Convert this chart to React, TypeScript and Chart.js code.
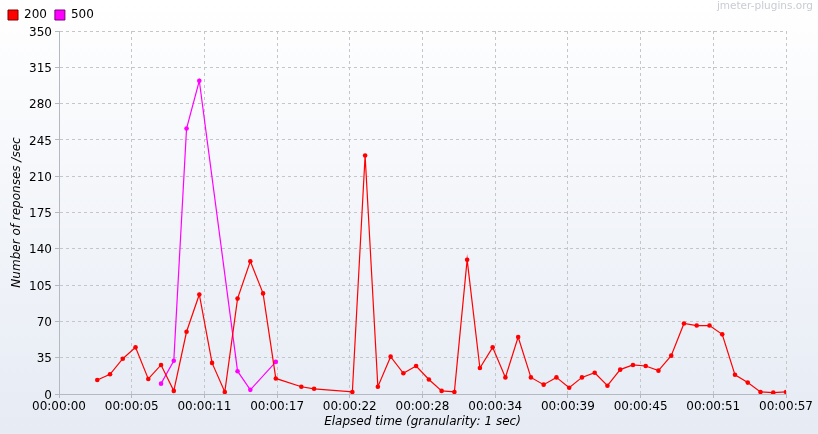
import React, { useEffect, useRef } from "react";
import { Chart, registerables } from "chart.js";

Chart.register(...registerables);

const seriesNames = ["200", "500"];
const okTimes = [3, 4, 5, 6, 7, 8, 9, 10, 11, 12, 13, 14, 15, 16, 17, 19, 20, 23, 24, 25, 26, 27, 28, 29, 30, 31, 32, 33, 34, 35, 36, 37, 38, 39, 40, 41, 42, 43, 44, 45, 46, 47, 48, 49, 50, 51, 52, 53, 54, 55, 56, 57];
const okValues = [13.5, 19, 34, 45, 14.5, 28, 3, 60, 96, 30, 2, 92, 128, 97, 15, 7, 5, 2, 230, 7, 36, 20, 27, 14, 3, 2, 129.5, 25, 45, 16, 55, 16, 9, 16, 6, 16, 20.5, 8, 23.5, 28, 27, 22.5, 37, 68, 66, 66, 57.5, 18.5, 11, 2, 1.3, 2];
const errTimes = [8, 9, 10, 11, 14, 15, 17];
const errValues = [10, 32, 256, 302, 22, 4, 31];
const xTickValues = [0, 5.7, 11.4, 17.1, 22.8, 28.5, 34.2, 39.9, 45.6, 51.3, 57];
const yMax = 350;
const yStep = 35;

const FONT = "'DejaVu Sans', sans-serif";

function fmt(v: number) {
  const s = Math.floor(v + 1e-9);
  const hh = Math.floor(s / 3600);
  const mm = Math.floor((s % 3600) / 60);
  const ss = s % 60;
  const p = (n: number) => String(n).padStart(2, "0");
  return `${p(hh)}:${p(mm)}:${p(ss)}`;
}

const bgPlugin = {
  id: "bgGradient",
  beforeDraw(chart: any) {
    const { ctx, width, height } = chart;
    const g = ctx.createLinearGradient(0, 0, 0, height);
    g.addColorStop(0, "#ffffff");
    g.addColorStop(1, "#e6ebf4");
    ctx.save();
    ctx.fillStyle = g;
    ctx.fillRect(0, 0, width, height);
    ctx.restore();
  },
  afterDraw(chart: any) {
    const { ctx, width } = chart;
    ctx.save();
    ctx.font = `10.5px ${FONT}`;
    ctx.fillStyle = "#c8ccd3";
    ctx.textAlign = "right";
    ctx.textBaseline = "middle";
    ctx.fillText("jmeter-plugins.org", width - 5, 6);
    ctx.restore();
  },
};

const legendSizePlugin = {
  id: "legendSize",
  afterInit(chart: any) {
    const lg = chart.legend;
    if (lg && !lg.__patched) {
      const orig = lg.fit.bind(lg);
      lg.fit = function () {
        orig();
        this.height = 30;
      };
      lg.__patched = true;
    }
  },
};

export default function App() {
  const ref = useRef<HTMLCanvasElement | null>(null);
  useEffect(() => {
    if (!ref.current) return;
    const chart = new Chart(ref.current, {
      type: "line",
      data: {
        datasets: [
          {
            label: seriesNames[0],
            data: okTimes.map((t, i) => ({ x: t, y: okValues[i] })),
            borderColor: "#ff0000",
            backgroundColor: "#ff0000",
            borderWidth: 1.2,
            pointRadius: 2.3,
            pointBorderWidth: 0,
            tension: 0,
          },
          {
            label: seriesNames[1],
            data: errTimes.map((t, i) => ({ x: t, y: errValues[i] })),
            borderColor: "#ff00ff",
            backgroundColor: "#ff00ff",
            borderWidth: 1.2,
            pointRadius: 2.3,
            pointBorderWidth: 0,
            tension: 0,
          },
        ],
      },
      options: {
        animation: false,
        responsive: false,
        events: [],
        layout: { padding: { left: 0, right: 32, top: 1, bottom: 0 } },
        plugins: {
          tooltip: { enabled: false },
          legend: {
            display: true,
            position: "top",
            align: "start",
            labels: {
              boxWidth: 10,
              boxHeight: 10,
              padding: 8,
              color: "#000000",
              font: { family: FONT, size: 12 },
              generateLabels: (ch: any) =>
                ch.data.datasets.map((d: any, i: number) => ({
                  text: d.label,
                  fillStyle: d.borderColor,
                  strokeStyle: i === 0 ? "#7a0000" : "#7a007a",
                  lineWidth: 1,
                  datasetIndex: i,
                  hidden: false,
                })),
            },
          },
        },
        scales: {
          x: {
            type: "linear",
            min: 0,
            max: 57,
            afterBuildTicks: (scale: any) => {
              scale.ticks = xTickValues.map((v) => ({ value: v }));
            },
            afterFit: (scale: any) => {
              scale.height = 40;
            },
            ticks: {
              autoSkip: false,
              maxRotation: 0,
              padding: 2,
              color: "#000000",
              font: { family: FONT, size: 12 },
              callback: (v: any) => fmt(Number(v)),
            },
            grid: {
              color: "#c4c6ca",
              lineWidth: 1,
              tickLength: 4,
              tickColor: "#b4b8c0",
              tickBorderDash: [],
            },
            border: { display: true, color: "#b4b8c0", dash: [3, 3] },
            title: {
              display: true,
              text: "Elapsed time (granularity: 1 sec)",
              color: "#000000",
              font: { family: FONT, size: 12, style: "italic" },
              padding: { top: 2, bottom: 5 },
            },
          },
          y: {
            type: "linear",
            min: 0,
            max: yMax,
            afterFit: (scale: any) => {
              scale.width = 59;
            },
            ticks: {
              stepSize: yStep,
              padding: 3,
              labelOffset: 1.5,
              color: "#000000",
              font: { family: FONT, size: 12 },
            },
            grid: {
              color: "#c4c6ca",
              lineWidth: 1,
              tickLength: 4,
              tickColor: "#b4b8c0",
              tickBorderDash: [],
            },
            border: { display: true, color: "#b4b8c0", dash: [3, 3] },
            title: {
              display: true,
              text: "Number of reponses /sec",
              color: "#000000",
              font: { family: FONT, size: 12, style: "italic" },
              padding: { top: 10, bottom: 0 },
            },
          },
        },
      } as any,
      plugins: [bgPlugin, legendSizePlugin],
    });
    return () => chart.destroy();
  }, []);
  return (
    <div style={{ position: "fixed", left: 0, top: 0, width: 818, height: 434 }}>
      <canvas ref={ref} width={818} height={434} style={{ display: "block" }} />
    </div>
  );
}
